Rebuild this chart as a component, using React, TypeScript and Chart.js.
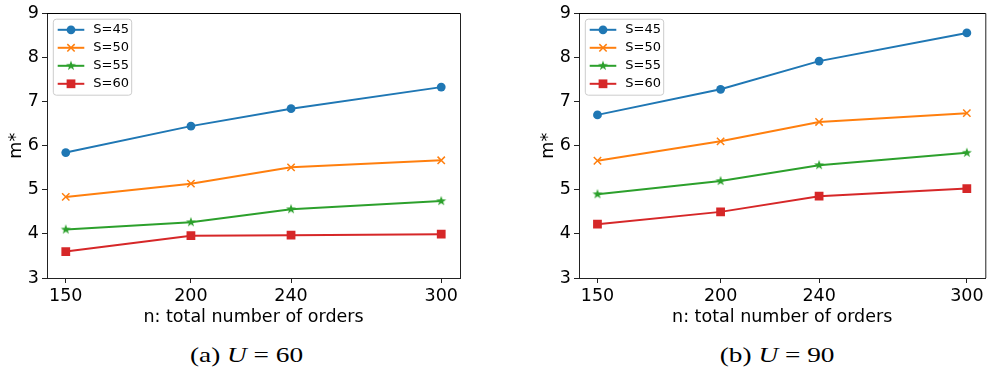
import React, { useEffect, useRef } from 'react';
import { Chart, registerables } from 'chart.js';
import { drawPoint } from 'chart.js/helpers';

Chart.register(...registerables);

// ---- data ----
const xValues = [150, 200, 240, 300];
const xTickValues = [150, 200, 240, 300];
const xMin = 142.5;
const xMax = 307.5;
const yMin = 3;
const yMax = 9;
const seriesLabels = ['S=45', 'S=50', 'S=55', 'S=60'];
const seriesColors = ['#1f77b4', '#ff7f0e', '#2ca02c', '#d62728'];

// (a) U = 60
const u60S45 = [5.845, 6.445, 6.84, 7.33];
const u60S50 = [4.84, 5.14, 5.51, 5.67];
const u60S55 = [4.1, 4.265, 4.56, 4.745];
const u60S60 = [3.6, 3.96, 3.97, 3.995];

// (b) U = 90
const u90S45 = [6.7, 7.28, 7.92, 8.56];
const u90S50 = [5.66, 6.1, 6.54, 6.74];
const u90S55 = [4.9, 5.2, 5.56, 5.84];
const u90S60 = [4.22, 4.5, 4.855, 5.03];

const xTitle = 'n: total number of orders';
const yTitle = 'm*';

const FONT = 'DejaVu Sans';

function makeStar(color: string, outer: number, inner: number) {
  const c = document.createElement('canvas');
  const size = 12;
  c.width = size;
  c.height = size;
  const ctx = c.getContext('2d')!;
  ctx.fillStyle = color;
  ctx.beginPath();
  for (let i = 0; i < 10; i++) {
    const r = i % 2 === 0 ? outer : inner;
    const a = -Math.PI / 2 + (i * Math.PI) / 5;
    ctx.lineTo(size / 2 + r * Math.cos(a), size / 2 + r * Math.sin(a));
  }
  ctx.closePath();
  ctx.fill();
  return c;
}

const framePlugin = {
  id: 'frameLegend',
  afterDraw(chart: any) {
    const { ctx, chartArea } = chart;
    const { left, right, top } = chartArea;
    ctx.save();
    // top and right spines
    ctx.strokeStyle = '#000';
    ctx.lineWidth = 1;
    ctx.beginPath();
    ctx.moveTo(left, top);
    ctx.lineTo(right + 0.5, top);
    ctx.stroke();
    ctx.strokeStyle = '#222';
    ctx.beginPath();
    ctx.moveTo(right + 0.5, top);
    ctx.lineTo(right + 0.5, chartArea.bottom);
    ctx.stroke();

    // legend
    const bx = left + 6.3;
    const by = top + 5.7;
    const bw = 78.4;
    const bh = 76;
    const r = 3;
    ctx.beginPath();
    ctx.moveTo(bx + r, by);
    ctx.lineTo(bx + bw - r, by);
    ctx.arcTo(bx + bw, by, bx + bw, by + r, r);
    ctx.lineTo(bx + bw, by + bh - r);
    ctx.arcTo(bx + bw, by + bh, bx + bw - r, by + bh, r);
    ctx.lineTo(bx + r, by + bh);
    ctx.arcTo(bx, by + bh, bx, by + bh - r, r);
    ctx.lineTo(bx, by + r);
    ctx.arcTo(bx, by, bx + r, by, r);
    ctx.closePath();
    ctx.fillStyle = 'rgba(255,255,255,0.8)';
    ctx.fill();
    ctx.strokeStyle = '#cccccc';
    ctx.lineWidth = 1;
    ctx.stroke();

    chart.data.datasets.forEach((ds: any, i: number) => {
      const y = by + 10.6 + i * 18;
      ctx.strokeStyle = ds.borderColor;
      ctx.fillStyle = ds.borderColor;
      ctx.lineWidth = ds.borderWidth;
      ctx.beginPath();
      ctx.moveTo(bx + 4.4, y);
      ctx.lineTo(bx + 31, y);
      ctx.stroke();
      ctx.lineWidth = ds.pointBorderWidth;
      drawPoint(ctx, {
        pointStyle: ds.pointStyle,
        radius: ds.pointRadius,
        borderWidth: ds.pointBorderWidth,
        rotation: 0,
      } as any, bx + 17.7, y);
      ctx.fillStyle = '#000';
      ctx.font = `13px "${FONT}"`;
      ctx.textAlign = 'left';
      ctx.textBaseline = 'middle';
      ctx.fillText(ds.label, bx + 40, y);
    });
    ctx.restore();
  },
};

function buildConfig(series: number[][], padRight: number, star: HTMLCanvasElement): any {
  const styles: any[] = ['circle', 'crossRot', star, 'rect'];
  const radii = [4.4, 5.2, 6, 6.2];
  const pbw = [0, 1.5, 0, 0];
  return {
    type: 'line',
    data: {
      datasets: series.map((vals, i) => ({
        label: seriesLabels[i],
        data: xValues.map((x, j) => ({ x, y: vals[j] })),
        borderColor: seriesColors[i],
        backgroundColor: seriesColors[i],
        pointBackgroundColor: seriesColors[i],
        pointBorderColor: seriesColors[i],
        borderWidth: 2,
        pointStyle: styles[i],
        pointRadius: radii[i],
        pointBorderWidth: pbw[i],
        tension: 0,
        fill: false,
      })),
    },
    options: {
      animation: false,
      responsive: false,
      maintainAspectRatio: false,
      layout: { padding: { top: 11, right: padRight, left: 0, bottom: 0 } },
      plugins: { legend: { display: false }, tooltip: { enabled: false }, title: { display: false } },
      scales: {
        x: {
          type: 'linear',
          min: xMin,
          max: xMax,
          afterBuildTicks: (s: any) => {
            s.ticks = xTickValues.map((v) => ({ value: v }));
          },
          afterFit: (s: any) => {
            s.height = 52;
          },
          ticks: {
            font: { family: FONT, size: 17.5 },
            color: '#000',
            padding: 3,
            maxRotation: 0,
            autoSkip: false,
            callback: (v: any) => String(v),
          },
          grid: { drawOnChartArea: false, drawTicks: true, tickLength: 5, color: '#222', lineWidth: 1 },
          border: { display: true, color: '#222', width: 1 },
          title: {
            display: true,
            text: xTitle,
            font: { family: FONT, size: 17.5 },
            color: '#000',
            padding: { top: 0, bottom: 2 },
          },
        },
        y: {
          type: 'linear',
          min: yMin,
          max: yMax,
          afterFit: (s: any) => {
            s.width = 47;
          },
          ticks: {
            stepSize: 1,
            font: { family: FONT, size: 17.5 },
            color: '#000',
            padding: 3,
          },
          grid: { drawOnChartArea: false, drawTicks: true, tickLength: 5, color: '#222', lineWidth: 1 },
          border: { display: true, color: '#222', width: 1 },
          title: {
            display: true,
            text: yTitle,
            font: { family: FONT, size: 17.5 },
            color: '#000',
            padding: { top: 6, bottom: 0 },
          },
        },
      },
    },
    plugins: [framePlugin],
  };
}

const captionStyle = (center: number): React.CSSProperties => ({
  position: 'absolute',
  left: center - 100,
  width: 200,
  top: 345,
  textAlign: 'center',
  fontFamily: '"Liberation Serif", "Times New Roman", serif',
  fontWeight: 'normal',
  fontSize: 21,
  lineHeight: '21px',
  whiteSpace: 'nowrap',
  color: '#000',
});

export default function App() {
  const ref1 = useRef<HTMLCanvasElement>(null);
  const ref2 = useRef<HTMLCanvasElement>(null);

  useEffect(() => {
    const star = makeStar(seriesColors[2], 5.2, 2.1);
    const c1 = new Chart(ref1.current!, buildConfig([u60S45, u60S50, u60S55, u60S60], 20, star));
    const c2 = new Chart(ref2.current!, buildConfig([u90S45, u90S50, u90S55, u90S60], 1, star));
    return () => {
      c1.destroy();
      c2.destroy();
    };
  }, []);

  return (
    <div
      style={{
        position: 'absolute',
        left: 0,
        top: 0,
        width: 991,
        height: 368,
        overflow: 'hidden',
        background: '#fff',
      }}
    >
      <canvas
        ref={ref1}
        width={480}
        height={330}
        style={{ position: 'absolute', left: 0, top: 0, width: 480, height: 330 }}
      />
      <canvas
        ref={ref2}
        width={460}
        height={330}
        style={{ position: 'absolute', left: 532, top: 0, width: 460, height: 330 }}
      />
      <div style={captionStyle(246.5)}>
        <span style={{ display: 'inline-block', transform: 'scaleX(1.3)' }}>
          (a) <i>U</i> = 60
        </span>
      </div>
      <div style={captionStyle(777.5)}>
        <span style={{ display: 'inline-block', transform: 'scaleX(1.3)' }}>
          (b) <i>U</i> = 90
        </span>
      </div>
    </div>
  );
}
